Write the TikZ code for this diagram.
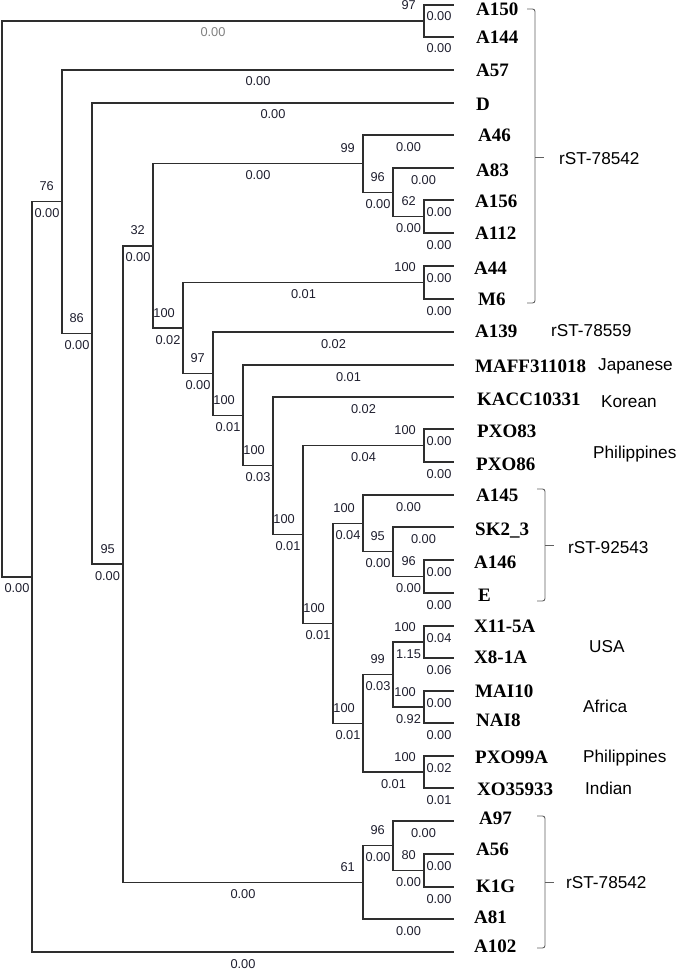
\documentclass[tikz,border=0pt]{standalone}
\usepackage{fontspec}
\setmainfont{Liberation Serif}
\setsansfont{Liberation Sans}
\definecolor{treec}{HTML}{2E2E2E}
\definecolor{brkc}{HTML}{606060}
\definecolor{labc}{HTML}{1E1E2E}
\begin{document}
\begin{tikzpicture}[x=1pt,y=-1pt,
  br/.style={draw=treec, line width=1.35pt},
  leaf/.style={anchor=base west, inner sep=0pt, font=\fontsize{19}{20}\selectfont\bfseries},
  bs/.style={anchor=base east, inner sep=0pt, text=labc, font=\fontsize{12.8}{14}\selectfont\sffamily},
  bl/.style={pos=0.75, anchor=base, inner sep=0pt, yshift=-16pt, text=labc, font=\fontsize{12.8}{14}\selectfont\sffamily},
  ann/.style={anchor=base west, inner sep=0pt, font=\fontsize{17.2}{19}\selectfont\sffamily},
  brk/.style={draw=brkc, line width=0.9pt, rounded corners=2.5pt}
]
\useasboundingbox (0,0) rectangle (681,971);

% ---------- leaf tips ----------
\coordinate (tA150) at (454,5);
\coordinate (tA144) at (454,37);
\coordinate (tA57) at (454,70);
\coordinate (tD) at (454,103);
\coordinate (tA46) at (454,135);
\coordinate (tA83) at (454,168);
\coordinate (tA156) at (454,200);
\coordinate (tA112) at (454,233);
\coordinate (tA44) at (454,266);
\coordinate (tM6) at (454,299);
\coordinate (tA139) at (454,332);
\coordinate (tMAFF) at (454,365);
\coordinate (tKACC) at (454,397);
\coordinate (tPXOa) at (454,429);
\coordinate (tPXOb) at (454,462);
\coordinate (tA145) at (454,495);
\coordinate (tSK) at (454,527);
\coordinate (tA146) at (454,560);
\coordinate (tE) at (454,593);
\coordinate (tXa) at (454,626);
\coordinate (tXb) at (454,658);
\coordinate (tMAI) at (454,691);
\coordinate (tNAI) at (454,723);
\coordinate (tPXOc) at (454,756);
\coordinate (tXO) at (454,788);
\coordinate (tA97) at (454,821);
\coordinate (tA56) at (454,854);
\coordinate (tK1G) at (454,887);
\coordinate (tA81) at (454,919);
\coordinate (tA102) at (454,952);

% ---------- internal nodes ----------
\coordinate (n97a) at (424,21);
\coordinate (n62) at (424,216.5);
\coordinate (n96a) at (393,192.25);
\coordinate (n99) at (363,163.6);
\coordinate (n100c) at (424,282.5);
\coordinate (n100g) at (424,445.5);
\coordinate (n96c) at (424,576.5);
\coordinate (n95b) at (393,551.75);
\coordinate (n100i) at (363,523.4);
\coordinate (n100k) at (424,642);
\coordinate (n100l) at (424,707);
\coordinate (n99b) at (393,674.5);
\coordinate (n100m) at (424,772);
\coordinate (n100j) at (363,723.25);
\coordinate (n100h) at (333,623.3);
\coordinate (n100f) at (303,534.4);
\coordinate (n100e) at (273,465.7);
\coordinate (n100d) at (243,415.35);
\coordinate (n97b) at (213,373.7);
\coordinate (n100b) at (183,328.1);
\coordinate (n32) at (153,245.9);
\coordinate (n80) at (424,870.5);
\coordinate (n96b) at (393,845.75);
\coordinate (n61) at (363,882.4);
\coordinate (n95) at (123,564.1);
\coordinate (n86) at (92,333.6);
\coordinate (n76) at (62,201.8);
\coordinate (n1) at (32,576.9);
\coordinate (root) at (2,298.9);

% ---------- branches with lengths ----------
\draw[br] (root) |- (n97a) node[bl, text=gray]{0.00};
\draw[br] (root) |- (n1) node[bl]{0.00};
\draw[br] (n97a) |- (tA150) node[bl]{0.00};
\draw[br] (n97a) |- (tA144) node[bl]{0.00};
\draw[br] (n1) |- (n76) node[bl]{0.00};
\draw[br] (n1) |- (tA102) node[bl]{0.00};
\draw[br] (n76) |- (tA57) node[bl]{0.00};
\draw[br] (n76) |- (n86) node[bl]{0.00};
\draw[br] (n86) |- (tD) node[bl]{0.00};
\draw[br] (n86) |- (n95) node[bl]{0.00};
\draw[br] (n95) |- (n32) node[bl]{0.00};
\draw[br] (n95) |- (n61) node[bl]{0.00};
\draw[br] (n32) |- (n99) node[bl]{0.00};
\draw[br] (n32) |- (n100b) node[bl]{0.02};
\draw[br] (n99) |- (tA46) node[bl]{0.00};
\draw[br] (n99) |- (n96a) node[bl]{0.00};
\draw[br] (n96a) |- (tA83) node[bl]{0.00};
\draw[br] (n96a) |- (n62) node[bl]{0.00};
\draw[br] (n62) |- (tA156) node[bl]{0.00};
\draw[br] (n62) |- (tA112) node[bl]{0.00};
\draw[br] (n100b) |- (n100c) node[bl]{0.01};
\draw[br] (n100b) |- (n97b) node[bl]{0.00};
\draw[br] (n100c) |- (tA44) node[bl]{0.00};
\draw[br] (n100c) |- (tM6) node[bl]{0.00};
\draw[br] (n97b) |- (tA139) node[bl]{0.02};
\draw[br] (n97b) |- (n100d) node[bl]{0.01};
\draw[br] (n100d) |- (tMAFF) node[bl]{0.01};
\draw[br] (n100d) |- (n100e) node[bl]{0.03};
\draw[br] (n100e) |- (tKACC) node[bl]{0.02};
\draw[br] (n100e) |- (n100f) node[bl]{0.01};
\draw[br] (n100f) |- (n100g) node[bl]{0.04};
\draw[br] (n100f) |- (n100h) node[bl]{0.01};
\draw[br] (n100g) |- (tPXOa) node[bl]{0.00};
\draw[br] (n100g) |- (tPXOb) node[bl]{0.00};
\draw[br] (n100h) |- (n100i) node[bl]{0.04};
\draw[br] (n100h) |- (n100j) node[bl]{0.01};
\draw[br] (n100i) |- (tA145) node[bl]{0.00};
\draw[br] (n100i) |- (n95b) node[bl]{0.00};
\draw[br] (n95b) |- (tSK) node[bl]{0.00};
\draw[br] (n95b) |- (n96c) node[bl]{0.00};
\draw[br] (n96c) |- (tA146) node[bl]{0.00};
\draw[br] (n96c) |- (tE) node[bl]{0.00};
\draw[br] (n100j) |- (n99b) node[bl]{0.03};
\draw[br] (n100j) |- (n100m) node[bl]{0.01};
\draw[br] (n99b) |- (n100k) node[bl]{1.15};
\draw[br] (n99b) |- (n100l) node[bl]{0.92};
\draw[br] (n100k) |- (tXa) node[bl]{0.04};
\draw[br] (n100k) |- (tXb) node[bl]{0.06};
\draw[br] (n100l) |- (tMAI) node[bl]{0.00};
\draw[br] (n100l) |- (tNAI) node[bl]{0.00};
\draw[br] (n100m) |- (tPXOc) node[bl]{0.02};
\draw[br] (n100m) |- (tXO) node[bl]{0.01};
\draw[br] (n61) |- (n96b) node[bl]{0.00};
\draw[br] (n61) |- (tA81) node[bl]{0.00};
\draw[br] (n96b) |- (tA97) node[bl]{0.00};
\draw[br] (n96b) |- (n80) node[bl]{0.00};
\draw[br] (n80) |- (tA56) node[bl]{0.00};
\draw[br] (n80) |- (tK1G) node[bl]{0.00};

% ---------- bootstrap values ----------
\node[bs] (b97a) at ([shift={(-8,-11)}]n97a) {97};
\node[bs] (b76) at ([shift={(-8,-11)}]n76) {76};
\node[bs] (b86) at ([shift={(-8,-11)}]n86) {86};
\node[bs] (b95) at ([shift={(-8,-11)}]n95) {95};
\node[bs] (b32) at ([shift={(-8,-11)}]n32) {32};
\node[bs] (b99) at ([shift={(-8,-11)}]n99) {99};
\node[bs] (b96a) at ([shift={(-8,-11)}]n96a) {96};
\node[bs] (b62) at ([shift={(-8,-11)}]n62) {62};
\node[bs] (b100c) at ([shift={(-8,-11)}]n100c) {100};
\node[bs] (b100b) at ([shift={(-8,-11)}]n100b) {100};
\node[bs] (b97b) at ([shift={(-8,-11)}]n97b) {97};
\node[bs] (b100d) at ([shift={(-8,-11)}]n100d) {100};
\node[bs] (b100e) at ([shift={(-8,-11)}]n100e) {100};
\node[bs] (b100f) at ([shift={(-8,-11)}]n100f) {100};
\node[bs] (b100g) at ([shift={(-8,-11)}]n100g) {100};
\node[bs] (b100h) at ([shift={(-8,-11)}]n100h) {100};
\node[bs] (b100i) at ([shift={(-8,-11)}]n100i) {100};
\node[bs] (b95b) at ([shift={(-8,-11)}]n95b) {95};
\node[bs] (b96c) at ([shift={(-8,-11)}]n96c) {96};
\node[bs] (b100j) at ([shift={(-8,-11)}]n100j) {100};
\node[bs] (b99b) at ([shift={(-8,-11)}]n99b) {99};
\node[bs] (b100k) at ([shift={(-8,-11)}]n100k) {100};
\node[bs] (b100l) at ([shift={(-8,-11)}]n100l) {100};
\node[bs] (b100m) at ([shift={(-8,-11)}]n100m) {100};
\node[bs] (b61) at ([shift={(-8,-11)}]n61) {61};
\node[bs] (b96b) at ([shift={(-8,-11)}]n96b) {96};
\node[bs] (b80) at ([shift={(-8,-11)}]n80) {80};

% ---------- leaf names ----------
\node[leaf] (lA150) at (476,16) {A150};
\node[leaf] (lA144) at (476,44) {A144};
\node[leaf] (lA57) at (476,77) {A57};
\node[leaf] (lD) at (476,111) {D};
\node[leaf] (lA46) at (478,142) {A46};
\node[leaf] (lA83) at (476,176) {A83};
\node[leaf] (lA156) at (475,207) {A156};
\node[leaf] (lA112) at (475,239) {A112};
\node[leaf] (lA44) at (474,274) {A44};
\node[leaf] (lM6) at (478,305) {M6};
\node[leaf] (lA139) at (475,337) {A139};
\node[leaf] (lMAFF) at (475,372) {MAFF311018};
\node[leaf] (lKACC) at (477,405) {KACC10331};
\node[leaf] (lPXOa) at (477,437) {PXO83};
\node[leaf] (lPXOb) at (476,470) {PXO86};
\node[leaf] (lA145) at (476,501) {A145};
\node[leaf] (lSK) at (475,535) {SK2\_3};
\node[leaf] (lA146) at (474,568) {A146};
\node[leaf] (lE) at (478,601) {E};
\node[leaf] (lXa) at (474,632) {X11-5A};
\node[leaf] (lXb) at (474,663) {X8-1A};
\node[leaf] (lMAI) at (475,697) {MAI10};
\node[leaf] (lNAI) at (476,726) {NAI8};
\node[leaf] (lPXOc) at (475,763) {PXO99A};
\node[leaf] (lXO) at (477,795) {XO35933};
\node[leaf] (lA97) at (479,824) {A97};
\node[leaf] (lA56) at (476,855) {A56};
\node[leaf] (lK1G) at (476,892) {K1G};
\node[leaf] (lA81) at (474,923) {A81};
\node[leaf] (lA102) at (474,952) {A102};

% ---------- brackets ----------
\coordinate (k1t) at (527,9);
\coordinate (k1b) at (527,303);
\coordinate (k1m) at (535,157);
\coordinate (k1e) at (544,157);
\draw[brk] (k1t) -- (535,9) -- (535,303) -- (k1b);
\draw[brk] (k1m) -- (k1e);

\coordinate (k2t) at (537,489);
\coordinate (k2b) at (537,601);
\coordinate (k2m) at (545,545);
\coordinate (k2e) at (554,545);
\draw[brk] (k2t) -- (545,489) -- (545,601) -- (k2b);
\draw[brk] (k2m) -- (k2e);

\coordinate (k3t) at (537,816);
\coordinate (k3b) at (537,948);
\coordinate (k3m) at (545,882);
\coordinate (k3e) at (554,882);
\draw[brk] (k3t) -- (545,816) -- (545,948) -- (k3b);
\draw[brk] (k3m) -- (k3e);

% ---------- annotations ----------
\node[ann] (a1) at (559,164) {rST-78542};
\node[ann] (a2) at (551,336) {rST-78559};
\node[ann] (a3) at (598,370) {Japanese};
\node[ann] (a4) at (601,407) {Korean};
\node[ann] (a5) at (593,458) {Philippines};
\node[ann] (a6) at (568,553) {rST-92543};
\node[ann] (a7) at (589,652) {USA};
\node[ann] (a8) at (583,712) {Africa};
\node[ann] (a9) at (583,762) {Philippines};
\node[ann] (a10) at (585,794) {Indian};
\node[ann] (a11) at (566,888) {rST-78542};
\end{tikzpicture}
\end{document}
